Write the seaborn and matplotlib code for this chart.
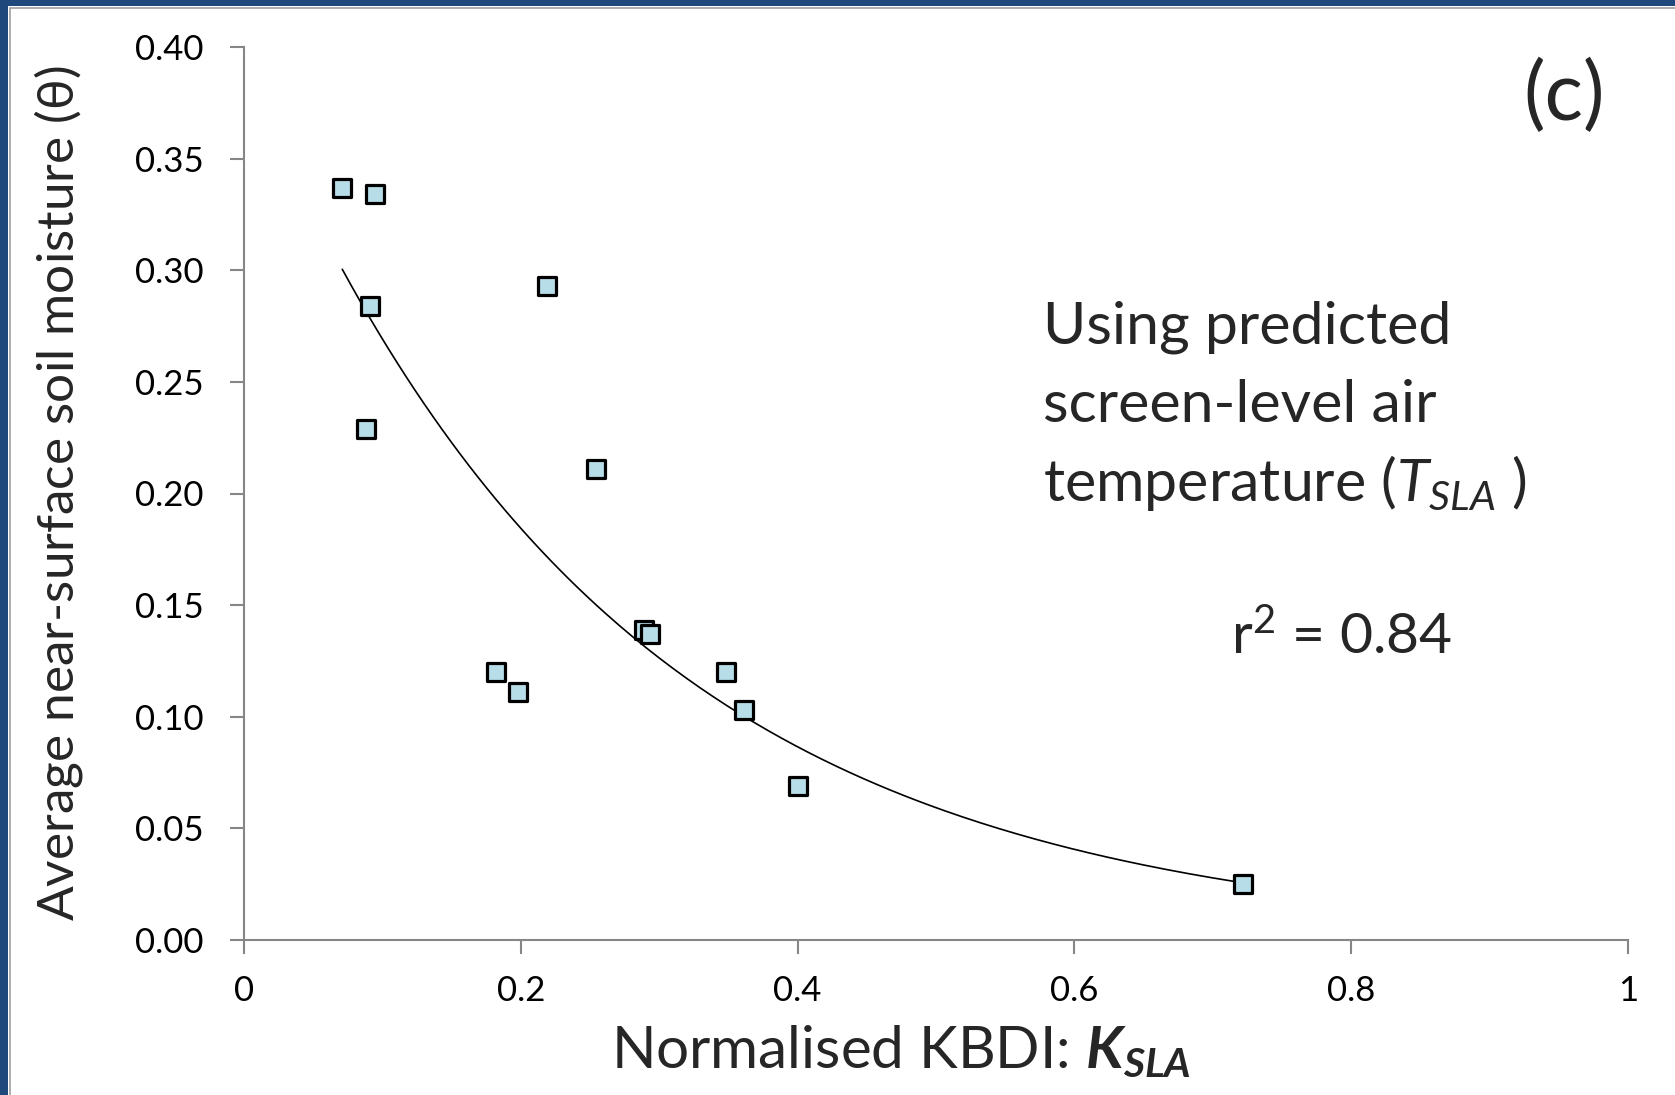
import numpy as np
import pandas as pd
import matplotlib
matplotlib.use("Agg")
import matplotlib.pyplot as plt
import seaborn as sns
from matplotlib.patches import Rectangle
from matplotlib.lines import Line2D

# ---- data ----
kbdi = [0.071, 0.095, 0.091, 0.088, 0.219, 0.254, 0.182, 0.198,
        0.289, 0.293, 0.348, 0.361, 0.400, 0.722]
soil_moisture = [0.337, 0.334, 0.284, 0.229, 0.293, 0.211, 0.120, 0.111,
                 0.139, 0.137, 0.120, 0.103, 0.069, 0.025]
x_ticks = [0, 0.2, 0.4, 0.6, 0.8, 1]
x_tick_labels = ["0", "0.2", "0.4", "0.6", "0.8", "1"]
y_ticks = [0.00, 0.05, 0.10, 0.15, 0.20, 0.25, 0.30, 0.35, 0.40]
y_tick_labels = ["0.00", "0.05", "0.10", "0.15", "0.20", "0.25", "0.30", "0.35", "0.40"]
note_lines = ["Using predicted", "screen-level air",
              "temperature ($\\mathit{T}_{\\mathit{SLA}}$ )"]
r2_text = "r$^2$ = 0.84"

df = pd.DataFrame({"k": kbdi, "theta": soil_moisture})

sns.set_theme(style="white")
FONT = "Lato"
plt.rcParams["font.family"] = [FONT, "DejaVu Sans"]
plt.rcParams["mathtext.fontset"] = "custom"
plt.rcParams["mathtext.rm"] = FONT
plt.rcParams["mathtext.it"] = FONT + ":italic"
plt.rcParams["mathtext.bf"] = FONT + ":bold"
plt.rcParams["mathtext.bfit"] = FONT + ":italic:bold"

fig = plt.figure(figsize=(16.75, 10.95), dpi=100)
ax = fig.add_axes([244 / 1675, 1 - 940 / 1095, (1628 - 244) / 1675, (940 - 47) / 1095])

# exponential trendline (Excel style: least squares on ln y)
b, lna = np.polyfit(df["k"], np.log(df["theta"]), 1)
xs = np.linspace(df["k"].min(), df["k"].max(), 200)
trend = pd.DataFrame({"k": xs, "theta": np.exp(lna) * np.exp(b * xs)})
sns.lineplot(data=trend, x="k", y="theta", ax=ax, color="black", linewidth=1.2, zorder=2)

sns.scatterplot(data=df, x="k", y="theta", ax=ax, marker="s", s=150,
                color="#b7dde8", edgecolor="black", linewidth=2.3, zorder=3)

ax.set_xlim(0, 1)
ax.set_ylim(0, 0.40)
ax.set_xticks(x_ticks)
ax.set_xticklabels(x_tick_labels)
ax.set_yticks(y_ticks)
ax.set_yticklabels(y_tick_labels)

for side in ["top", "right"]:
    ax.spines[side].set_visible(False)
for side in ["left", "bottom"]:
    ax.spines[side].set_color("#868686")
    ax.spines[side].set_linewidth(1.5)
ax.tick_params(axis="both", direction="out", length=10, width=1.5, color="#868686",
               labelsize=25, labelcolor="black", left=True, bottom=True)
ax.tick_params(axis="x", pad=15)
ax.tick_params(axis="y", pad=19)

ax.set_xlabel(r"Normalised KBDI: $\mathbfit{K}_{\mathbfit{SLA}}$", fontsize=42)
ax.xaxis.set_label_coords(0.4745, -0.1435)
ax.xaxis.label.set_va("baseline")
ax.set_ylabel(r"Average near-surface soil moisture ($\mathrm{\theta}$)", fontsize=37)
ax.yaxis.set_label_coords(-0.134, 0.5)
ax.yaxis.label.set_va("center")

ax.text(0.983, 0.987, "(c)", transform=ax.transAxes, fontsize=58, ha="right", va="top")
for line, yb in zip(note_lines, [0.6675, 0.580, 0.4916]):
    ax.text(0.577, yb, line, transform=ax.transAxes, fontsize=42.5,
            ha="left", va="baseline")
ax.text(0.713, 0.3206, r2_text, transform=ax.transAxes, fontsize=41,
        ha="left", va="baseline")

# presentation frame (dark blue band on top and left with thin grey inner line)
fig.patches.append(Rectangle((0, 1 - 6 / 1095), 1, 6 / 1095, transform=fig.transFigure,
                             facecolor="#1f497d", edgecolor="none", zorder=0))
fig.patches.append(Rectangle((0, 0), 8 / 1675, 1, transform=fig.transFigure,
                             facecolor="#1f497d", edgecolor="none", zorder=0))
fig.lines.append(Line2D([9.5 / 1675, 1], [1 - 7.5 / 1095, 1 - 7.5 / 1095],
                        transform=fig.transFigure, color="#a0a0a0", linewidth=1.2))
fig.lines.append(Line2D([9.5 / 1675, 9.5 / 1675], [0, 1 - 7.5 / 1095],
                        transform=fig.transFigure, color="#a0a0a0", linewidth=1.2))

fig.savefig("out.png", dpi=100)
